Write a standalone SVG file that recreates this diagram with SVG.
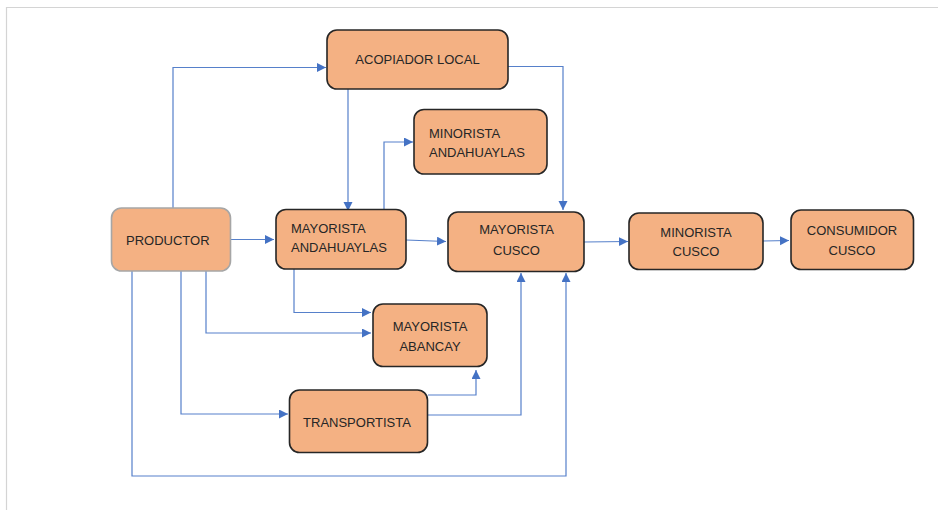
<svg xmlns="http://www.w3.org/2000/svg" width="938" height="510" viewBox="0 0 938 510">
<style>
.n{fill:#F4B183;stroke:#262626;stroke-width:1.6}
.np{fill:#F4B183;stroke:#A6A6A6;stroke-width:1.6}
.t{font-family:"Liberation Sans",Arial,sans-serif;font-size:13px;fill:#262626}
.c{fill:none;stroke:#4472C4;stroke-width:1.2;stroke-opacity:0.9}
</style>
<defs>
<marker id="a" markerUnits="userSpaceOnUse" markerWidth="10" markerHeight="10" refX="9" refY="4.5" orient="auto">
<path d="M0,0 L9,4.5 L0,9 Z" fill="#4472C4"/>
</marker>
</defs>
<rect x="0" y="0" width="938" height="510" fill="#ffffff"/>
<path d="M6.5,510 V7.5 H938" fill="none" stroke="#d4d4d4" stroke-width="1.2"/>
<g id="connectors">
<path class="c" d="M173,208 V67.5 H326" marker-end="url(#a)"/>
<path class="c" d="M348,89 V211" marker-end="url(#a)"/>
<path class="c" d="M384,209 V142 H413" marker-end="url(#a)"/>
<path class="c" d="M508,66.5 H563 V210" marker-end="url(#a)"/>
<path class="c" d="M231,239.5 H274" marker-end="url(#a)"/>
<path class="c" d="M406,240 L446,241.5" marker-end="url(#a)"/>
<path class="c" d="M584,242 L628,241.5" marker-end="url(#a)"/>
<path class="c" d="M763,241 L789,240.5" marker-end="url(#a)"/>
<path class="c" d="M294,269 V312.5 H371" marker-end="url(#a)"/>
<path class="c" d="M206,271 V333 H371" marker-end="url(#a)"/>
<path class="c" d="M181,271 V414 H288" marker-end="url(#a)"/>
<path class="c" d="M428,395 H476 V370" marker-end="url(#a)"/>
<path class="c" d="M428,415 H521 V273" marker-end="url(#a)"/>
<path class="c" d="M132,271 V476 H566 V273" marker-end="url(#a)"/>
</g>
<g id="acopiador">
<rect class="n" x="327" y="30" width="181" height="59" rx="10"/>
<text class="t" x="417.5" y="64" text-anchor="middle">ACOPIADOR LOCAL</text>
</g>
<g id="minorista-andahuaylas">
<rect class="n" x="414" y="109.5" width="133" height="64.5" rx="10"/>
<text class="t" x="429" y="138">MINORISTA</text>
<text class="t" x="429" y="157">ANDAHUAYLAS</text>
</g>
<g id="productor">
<rect class="np" x="111.5" y="208" width="119" height="63" rx="10"/>
<text class="t" x="126" y="244.5">PRODUCTOR</text>
</g>
<g id="mayorista-andahuaylas">
<rect class="n" x="276" y="209.5" width="130" height="59.5" rx="10"/>
<text class="t" x="291" y="232.5">MAYORISTA</text>
<text class="t" x="291" y="252">ANDAHUAYLAS</text>
</g>
<g id="mayorista-cusco">
<rect class="n" x="448" y="212" width="136" height="59.5" rx="10"/>
<text class="t" x="516.5" y="234" text-anchor="middle">MAYORISTA</text>
<text class="t" x="516.5" y="255" text-anchor="middle">CUSCO</text>
</g>
<g id="minorista-cusco">
<rect class="n" x="629" y="213" width="134" height="56.5" rx="10"/>
<text class="t" x="696" y="237" text-anchor="middle">MINORISTA</text>
<text class="t" x="696" y="255.5" text-anchor="middle">CUSCO</text>
</g>
<g id="consumidor-cusco">
<rect class="n" x="791" y="210" width="122.5" height="59.5" rx="10"/>
<text class="t" x="852" y="234.5" text-anchor="middle">CONSUMIDOR</text>
<text class="t" x="852" y="254.5" text-anchor="middle">CUSCO</text>
</g>
<g id="mayorista-abancay">
<rect class="n" x="373" y="304" width="114" height="62.5" rx="10"/>
<text class="t" x="430" y="331" text-anchor="middle">MAYORISTA</text>
<text class="t" x="430" y="351" text-anchor="middle">ABANCAY</text>
</g>
<g id="transportista">
<rect class="n" x="289.5" y="390" width="138" height="62.5" rx="10"/>
<text class="t" x="357" y="427" text-anchor="middle">TRANSPORTISTA</text>
</g>
</svg>
